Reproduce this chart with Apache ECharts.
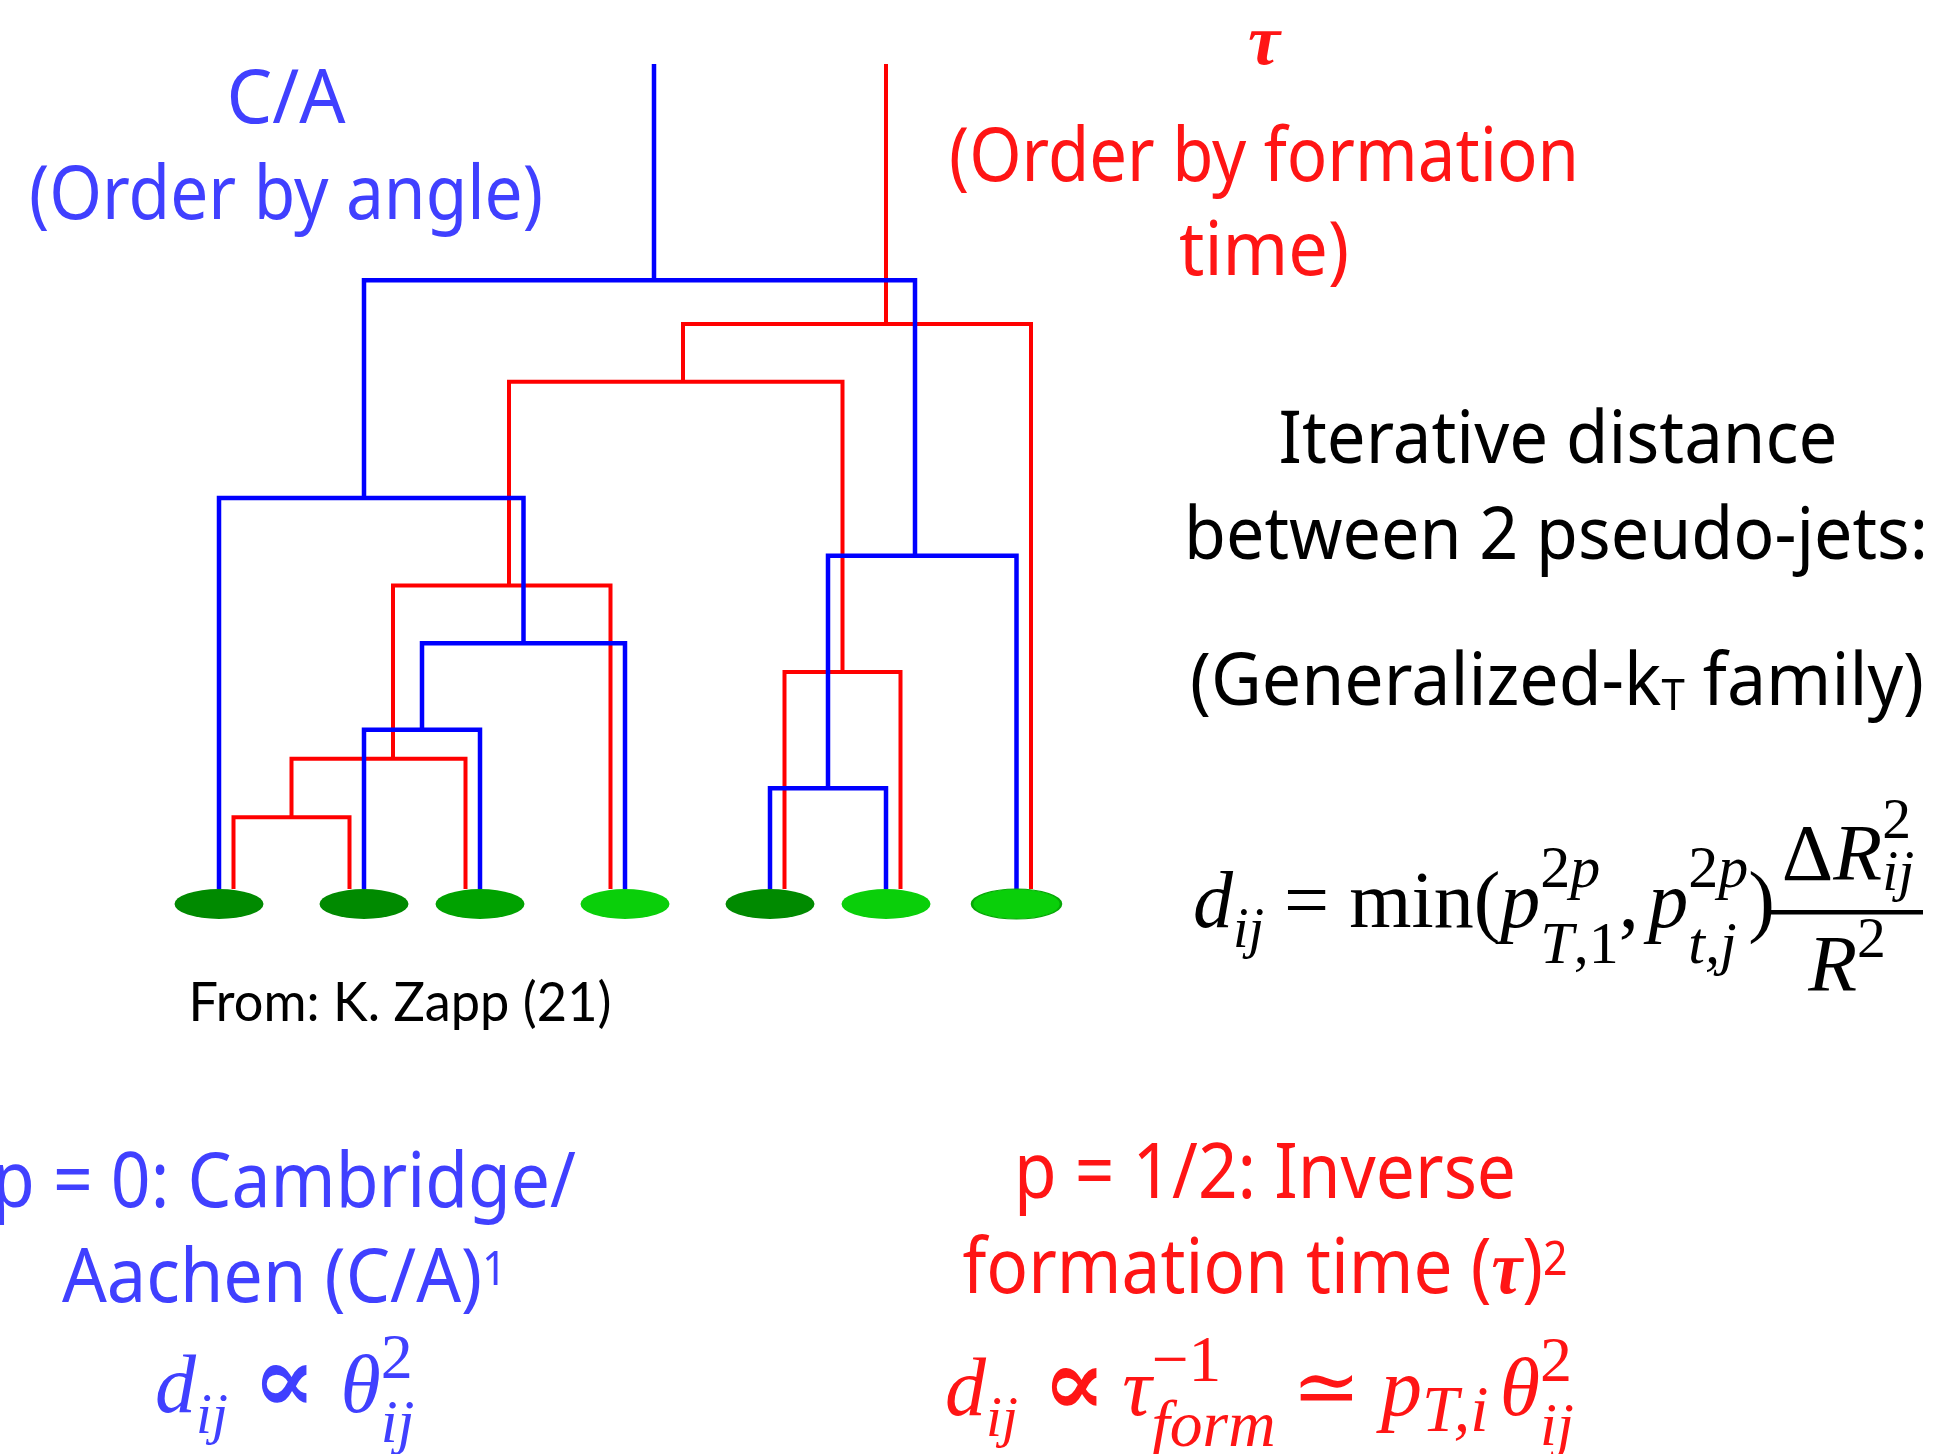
<!DOCTYPE html>
<html>
<head>
<meta charset="utf-8">
<script src="https://cdn.jsdelivr.net/npm/echarts@6/dist/echarts.min.js"></script>
<style>
  html, body { margin: 0; padding: 0; background: #fff; }
  #main { width: 1938px; height: 1454px; }
</style>
</head>
<body>
<div id="main"></div>
<script>
// Leaves (pseudo-jets) along the angular axis, and their shade
const leafX = [0, 1, 1.8, 2.8, 3.8, 4.6, 5.5];
const leafShade = ['dark', 'dark', 'mid', 'light', 'dark', 'light', 'light'];
// tau tree attaches slightly beside each leaf
const tauLeafShift = [0.1, -0.1, -0.1, -0.1, 0.1, 0.1, 0.1];

// merges: [child A, child B, junction x, merge height]; new nodes get index 7, 8, ...
const caMerges = [
  [1, 2, 1.4, 1.93],
  [7, 3, 2.1, 2.98],
  [0, 8, 1.0, 4.74],
  [4, 5, 4.2, 1.22],
  [10, 6, 4.8, 4.04],
  [9, 11, 3.0, 7.38],
];
const tauMerges = [
  [0, 1, 0.5, 0.87],
  [7, 2, 1.2, 1.58],
  [8, 3, 2.0, 3.68],
  [4, 5, 4.3, 2.63],
  [9, 10, 3.2, 6.15],
  [11, 6, 4.6, 6.85],
];
const rootTop = 10;

const shadeColor = { dark: '#008a00', mid: '#00a200', light: '#0acf0a' };
const BLUE = '#0000ff', RED = '#ff0000';
const BLUE_TXT = '#4040ff', RED_TXT = '#ff1515';

function treeSegments(merges, shift) {
  const nx = leafX.map((x, i) => x + (shift ? shift[i] : 0));
  const nh = leafX.map(() => 0);
  const segs = [];
  merges.forEach(([a, b, x, h]) => {
    segs.push([[nx[a], nh[a]], [nx[a], h], [nx[b], h], [nx[b], nh[b]]]);
    nx.push(x);
    nh.push(h);
  });
  const r = nx.length - 1;
  segs.push([[nx[r], nh[r]], [nx[r], rootTop]]);
  return segs;
}

// ---- text / formula layout ----
const SANS = '"Noto Sans", sans-serif';
const LATO = 'Lato, sans-serif';
const SERIF = '"Liberation Serif", "DejaVu Serif", serif';

function tk(t, o) { return Object.assign({ t, ff: SANS, it: false, b: false, k: 1, dy: 0 }, o || {}); }
const mi = (t, o) => tk(t, Object.assign({ ff: SERIF, it: true }, o));
const mr = (t, o) => tk(t, Object.assign({ ff: SERIF }, o));
const SUP = { k: 0.75, dy: -0.5 };
const SUB = { k: 0.75, dy: 0.45 };
const SUB1 = { k: 0.7, dy: 0.25 };
const SUP2 = { k: 0.78, dy: -0.42 };
const SUB2 = { k: 0.74, dy: 0.36 };
const PROP = { k: 1.15, b: true };

const mctx = document.createElement('canvas').getContext('2d');
function fontOf(p, size) {
  return (p.it ? 'italic ' : '') + (p.b ? 'bold ' : '') + (size * p.k).toFixed(1) + 'px ' + p.ff;
}
function metrics(p, size) {
  const font = fontOf(p, size);
  mctx.font = font;
  mctx.textBaseline = 'middle';
  const w = mctx.measureText(p.t).width;
  const off = mctx.measureText('H').actualBoundingBoxDescent;
  return { font, w, off };
}

function textRow(row) {
  const kids = [];
  let x = 0;
  const place = (p, x0) => {
    const m = metrics(p, row.size);
    kids.push({
      type: 'text', x: x0, y: p.dy * row.size - m.off, silent: true,
      style: {
        text: p.t, font: m.font, fill: row.color,
        align: 'left', verticalAlign: 'middle', textAlign: 'left', textVerticalAlign: 'middle',
      },
    });
    return m.w;
  };
  row.items.forEach((it) => {
    if (it.stack) {
      let wmax = 0;
      it.stack.forEach((seq) => {
        let xx = x;
        seq.forEach((p) => { xx += place(p, xx); });
        wmax = Math.max(wmax, xx - x);
      });
      x += wmax;
    } else if (it.gap) {
      x += it.gap * row.size;
    } else {
      x += place(it, x);
    }
  });
  const sx = row.w ? row.w / x : 1;
  const isLeft = row.left != null;
  if (!isLeft) kids.forEach((k) => { k.x -= x / 2; });
  return { type: 'group', x: isLeft ? row.left : row.cx, y: row.base, scaleX: sx, children: kids };
}

const rows = [
  { cx: 286, base: 123, size: 75, w: 119, color: BLUE_TXT, items: [tk('C/A')] },
  { cx: 286, base: 219, size: 75, w: 514, color: BLUE_TXT, items: [tk('(Order by angle)')] },
  { cx: 1264, base: 64, size: 72, color: RED_TXT, items: [mi('τ', { b: true })] },
  { cx: 1264, base: 181, size: 75, w: 630, color: RED_TXT, items: [tk('(Order by formation')] },
  { cx: 1264, base: 275, size: 75, w: 170, color: RED_TXT, items: [tk('time)')] },
  { cx: 1558, base: 463, size: 73, w: 559, color: '#000', items: [tk('Iterative distance')] },
  { cx: 1556, base: 559, size: 73, w: 744, color: '#000', items: [tk('between 2 pseudo-jets:')] },
  { cx: 1557, base: 705, size: 73, w: 734, color: '#000',
    items: [tk('(Generalized-k'), tk('T', { k: 0.6, dy: 0.07 }), tk(' family)')] },
  { cx: 400, base: 1021, size: 54, w: 423, color: '#000', items: [tk('From: K. Zapp (21)', { ff: LATO })] },
  // main formula
  { left: 1193, base: 927, size: 80, color: '#000', items: [
    mi('d'), mi('ij', SUB1), mr(' = '), mr('min('), mi('p'),
    { stack: [[mr('2', SUP), mi('p', SUP)], [mi('T', SUB), mr(',1', SUB)]] },
    mr(','), { gap: 0.12 }, mi('p'),
    { stack: [[mr('2', SUP), mi('p', SUP)], [mi('t,j', SUB)]] },
    mr(')'),
  ] },
  { cx: 1848, base: 880, size: 80, color: '#000', items: [
    mr('Δ'), mi('R'), { stack: [[mr('2', { k: 0.72, dy: -0.52 })], [mi('ij', { k: 0.72, dy: 0.12 })]] },
  ] },
  { cx: 1847, base: 991, size: 80, color: '#000', items: [mi('R'), mr('2', { k: 0.72, dy: -0.42 })] },
  // C/A bottom
  { cx: 284, base: 1207, size: 76, w: 584, color: BLUE_TXT, items: [tk('p = 0: Cambridge/')] },
  { cx: 284.5, base: 1302, size: 75, w: 445, color: BLUE_TXT,
    items: [tk('Aachen (C/A)'), tk('1', { k: 0.62, dy: -0.23 })] },
  { left: 155, base: 1412, size: 82, color: BLUE_TXT, items: [
    mi('d'), mi('ij', SUB1), { gap: 0.3 }, mr('∝', PROP), { gap: 0.3 }, mi('θ'),
    { stack: [[mr('2', SUP2)], [mi('ij', SUB2)]] },
  ] },
  // tau bottom
  { cx: 1265, base: 1198, size: 76, w: 502, color: RED_TXT, items: [tk('p = 1/2: Inverse')] },
  { cx: 1265, base: 1293, size: 76, w: 605, color: RED_TXT,
    items: [tk('formation time ('), mi('τ', { b: true }), tk(')'), tk('2', { k: 0.62, dy: -0.24 })] },
  { left: 945, base: 1415, size: 82, color: RED_TXT, items: [
    mi('d'), mi('ij', SUB1), { gap: 0.3 }, mr('∝', PROP), { gap: 0.2 }, mi('τ'),
    { stack: [[mr('−1', { k: 0.8, dy: -0.42 })], [mi('form', { k: 0.8, dy: 0.38 })]] },
    { gap: 0.2 }, mr('≃'), { gap: 0.25 }, mi('p'), mi('T,i', { k: 0.8, dy: 0.2 }), { gap: 0.14 }, mi('θ'),
    { stack: [[mr('2', SUP2)], [mi('ij', SUB2)]] },
  ] },
];

const graphics = rows.map(textRow);
// fraction bar of the main formula
graphics.push({ type: 'rect', silent: true, shape: { x: 1771, y: 910, width: 152, height: 4.5 }, style: { fill: '#000' } });

const ellipse = 'path://M0,1A1,1,0,1,1,2,1A1,1,0,1,1,0,1Z';

const chart = echarts.init(document.getElementById('main'));
chart.setOption({
  backgroundColor: '#ffffff',
  animation: false,
  grid: { left: 74, right: 704, top: 64, bottom: 565 },
  xAxis: { type: 'value', min: -1, max: 7, show: false },
  yAxis: { type: 'value', min: 0, max: rootTop, show: false },
  series: [
    {
      name: 'tau', type: 'lines', coordinateSystem: 'cartesian2d', polyline: true, silent: true, clip: false, z: 2,
      lineStyle: { color: RED, width: 4, opacity: 1, cap: 'butt', join: 'miter' },
      data: treeSegments(tauMerges, tauLeafShift).map((c) => ({ coords: c })),
    },
    {
      name: 'ca', type: 'lines', coordinateSystem: 'cartesian2d', polyline: true, silent: true, clip: false, z: 3,
      lineStyle: { color: BLUE, width: 4.5, opacity: 1, cap: 'butt', join: 'miter' },
      data: treeSegments(caMerges).map((c) => ({ coords: c })),
    },
    {
      name: 'leaves', type: 'scatter', silent: true, clip: false, z: 4,
      symbol: ellipse, symbolSize: [89, 30], symbolOffset: [0, 15],
      data: leafX.map((x, i) => ({
        value: [x, 0],
        itemStyle: {
          opacity: 1,
          color: shadeColor[leafShade[i]],
          borderColor: i === 6 ? '#06a806' : shadeColor[leafShade[i]],
          borderWidth: i === 6 ? 1.5 : 0,
        },
      })),
    },
  ],
  graphic: graphics,
});
</script>
</body>
</html>
